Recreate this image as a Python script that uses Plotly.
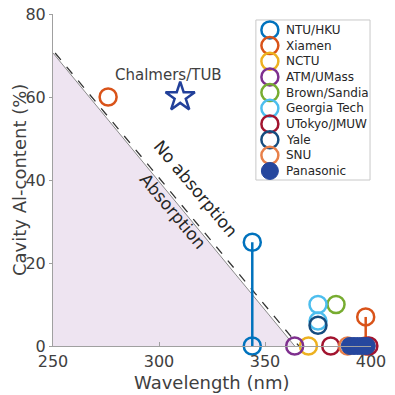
import plotly.graph_objects as go

# ---- data ----
boundary_x = [250, 364]
boundary_y = [70.6, 0]
dashed_x = [251, 366]
dashed_y = [70.6, 0]

groups = ["NTU/HKU", "Xiamen", "NCTU", "ATM/UMass", "Brown/Sandia",
          "Georgia Tech", "UTokyo/JMUW", "Yale", "SNU", "Panasonic"]
colors = ["#0072BD", "#D95319", "#EDB120", "#7E2F8E", "#77AC30",
          "#4DBEEE", "#A2142F", "#154C7E", "#E8804A", "#26479E"]

ntu_x = [344, 344]
ntu_y = [25, 0]
xiamen_x = [276, 397.5, 397.5]
xiamen_y = [60, 7, 0]
nctu_x = [370.5]
nctu_y = [0]
atm_x = [364]
atm_y = [0]
brown_x = [383.5]
brown_y = [10]
gt_x = [375, 375]
gt_y = [10, 6]
utokyo_x = [381, 399]
utokyo_y = [0, 0]
yale_x = [375]
yale_y = [5]
snu_x = [389]
snu_y = [0]
pana_x = [390, 392, 394, 396, 398]
pana_y = [0, 0, 0, 0, 0]

chalmers_x = [310]
chalmers_y = [60]

xs = [ntu_x, xiamen_x, nctu_x, atm_x, brown_x, gt_x, utokyo_x, yale_x, snu_x, pana_x]
ys = [ntu_y, xiamen_y, nctu_y, atm_y, brown_y, gt_y, utokyo_y, yale_y, snu_y, pana_y]

xticks = [250, 300, 350, 400]
yticks = [0, 20, 40, 60, 80]

MS = 17
LW = 2.5


def marker_for(name, c):
    if name == "Panasonic":
        return dict(symbol="circle", size=MS, color=c, line=dict(color=c, width=1))
    return dict(symbol="circle-open", size=MS, color=c, line=dict(color=c, width=LW))


fig = go.Figure()

# shaded absorption region
fig.add_trace(go.Scatter(x=[boundary_x[0]] + boundary_x + [boundary_x[0]],
                         y=[0, boundary_y[0], boundary_y[1], 0],
                         fill="toself", fillcolor="#EEE4F1", mode="none",
                         showlegend=False, hoverinfo="skip"))
fig.add_trace(go.Scatter(x=boundary_x, y=boundary_y, mode="lines",
                         line=dict(color="#8a8a8a", width=1),
                         showlegend=False, hoverinfo="skip"))
fig.add_trace(go.Scatter(x=dashed_x, y=dashed_y, mode="lines",
                         line=dict(color="#333333", width=1.3, dash="dash"),
                         showlegend=False, hoverinfo="skip"))

# vertical connector lines
fig.add_trace(go.Scatter(x=ntu_x, y=ntu_y, mode="lines",
                         line=dict(color=colors[0], width=LW),
                         showlegend=False, hoverinfo="skip", cliponaxis=False))
fig.add_trace(go.Scatter(x=xiamen_x[1:], y=xiamen_y[1:], mode="lines",
                         line=dict(color=colors[1], width=LW),
                         showlegend=False, hoverinfo="skip", cliponaxis=False))

for i, (name, c) in enumerate(zip(groups, colors)):
    fig.add_trace(go.Scatter(x=xs[i], y=ys[i], mode="markers", name=name,
                             marker=marker_for(name, c), cliponaxis=False,
                             showlegend=False))

# Chalmers star
fig.add_trace(go.Scatter(x=chalmers_x, y=chalmers_y, mode="markers",
                         marker=dict(symbol="star-open", size=22, color="#22409A",
                                     line=dict(color="#22409A", width=2.5)),
                         showlegend=False, cliponaxis=False))

fig.add_annotation(x=chalmers_x[0], y=chalmers_y[0], text="Chalmers/TUB",
                   showarrow=False, yshift=22, xshift=-12,
                   font=dict(size=15, color="#404040"))
fig.add_annotation(x=317, y=38, text="No absorption", showarrow=False,
                   textangle=50, font=dict(size=17, color="#262626"))
fig.add_annotation(x=306.5, y=32.5, text="Absorption", showarrow=False,
                   textangle=50, font=dict(size=17, color="#262626"))

# axis titles
fig.add_annotation(xref="paper", yref="paper", x=0.5, y=-0.11, text="Wavelength (nm)",
                   showarrow=False, xanchor="center", yanchor="middle",
                   font=dict(size=18, color="#404040"))
fig.add_annotation(xref="paper", yref="paper", x=-0.107, y=0.5, text="Cavity Al-content (%)",
                   showarrow=False, xanchor="center", yanchor="middle", textangle=-90,
                   font=dict(size=18, color="#404040"))

# ---- hand-built legend (compact spacing like the reference) ----
leg_x0, leg_x1, leg_y0, leg_y1 = 0.638, 0.997, 0.50, 0.982
leg_mx, leg_tx = 0.682, 0.726
leg_top, leg_step = 0.952, 0.0472
fig.add_shape(type="rect", xref="paper", yref="paper",
              x0=leg_x0, x1=leg_x1, y0=leg_y0, y1=leg_y1,
              line=dict(color="#c8c8c8", width=1), fillcolor="white", layer="below")
for i, (name, c) in enumerate(zip(groups, colors)):
    yy = leg_top - i * leg_step
    fig.add_trace(go.Scatter(x=[leg_mx], y=[yy], xaxis="x2", yaxis="y2",
                             mode="markers", marker=marker_for(name, c),
                             showlegend=False, hoverinfo="skip", cliponaxis=False))
    fig.add_annotation(xref="paper", yref="paper", x=leg_tx, y=yy, text=name,
                       showarrow=False, xanchor="left", yanchor="middle",
                       font=dict(size=12, color="#262626"))

fig.update_layout(
    width=387, height=387,
    margin=dict(l=45, r=24, t=6, b=49),
    plot_bgcolor="white", paper_bgcolor="white",
    font=dict(family="DejaVu Sans", color="#404040"),
    showlegend=False,
    xaxis=dict(range=[250, 400], tickvals=xticks, showgrid=False, zeroline=False,
               showline=True, linecolor="#a0a0a0", linewidth=1, automargin=False,
               ticks="inside", ticklen=4, tickcolor="#a0a0a0",
               ticklabelstandoff=1, ticklabeloverflow="allow",
               tickfont=dict(size=16, color="#404040")),
    yaxis=dict(range=[0, 80], tickvals=yticks, showgrid=False, zeroline=False,
               showline=True, linecolor="#a0a0a0", linewidth=1, automargin=False,
               ticks="outside", ticklen=3, tickcolor="#a0a0a0",
               ticklabeloverflow="allow",
               tickfont=dict(size=16, color="#404040")),
    xaxis2=dict(overlaying="x", range=[0, 1], visible=False, automargin=False),
    yaxis2=dict(overlaying="y", range=[0, 1], visible=False, automargin=False),
)

fig.write_html("out.html")
